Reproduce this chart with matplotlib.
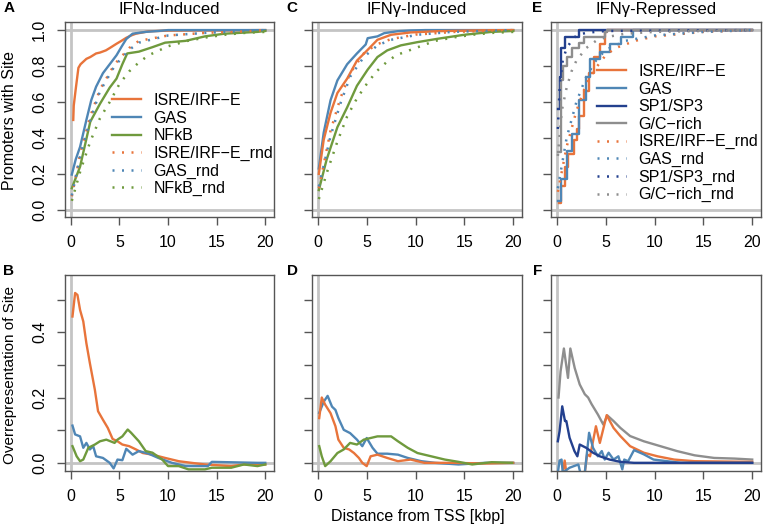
"""
Promoter site distribution around the TSS: cumulative fractions and overrepresentation
"""

import matplotlib
matplotlib.use("Agg")
import matplotlib.pyplot as plt

plt.rcParams['font.family'] = ['Liberation Sans', 'DejaVu Sans']
plt.rcParams['font.size'] = 11

ORANGE = '#E8743B'
BLUE = '#4F86B5'
GREEN = '#6F9A3D'
NAVY = '#23408E'
GREY = '#8E8E8E'

# ---- Panel A: IFNa-induced, fraction of promoters with site within distance ----
a_isre_x = [0.25, 0.3, 0.5, 0.78, 1.0, 1.6, 2.0, 2.6, 3.0, 3.6, 4.0, 4.7, 5.2, 5.7, 6.2, 6.7, 8.0, 10.0, 20.0]
a_isre_y = [0.50, 0.58, 0.67, 0.79, 0.81, 0.84, 0.85, 0.87, 0.875, 0.887, 0.90, 0.924, 0.94, 0.957, 0.97, 0.98, 0.993, 0.997, 1.0]
a_gas_x = [0.1, 0.5, 0.95, 1.6, 2.1, 2.6, 3.3, 4.0, 4.7, 5.2, 5.7, 6.35, 7.7, 9.0, 10.0, 20.0]
a_gas_y = [0.196, 0.28, 0.35, 0.50, 0.61, 0.685, 0.76, 0.81, 0.86, 0.906, 0.95, 0.98, 0.99, 0.995, 1.0, 1.0]
a_nfkb_x = [0.1, 0.95, 2.0, 3.0, 4.0, 4.7, 5.3, 5.8, 7.0, 8.4, 9.7, 11.8, 13.8, 15.8, 19.2, 20.0]
a_nfkb_y = [0.12, 0.24, 0.49, 0.59, 0.68, 0.73, 0.81, 0.87, 0.88, 0.905, 0.93, 0.94, 0.965, 0.98, 0.99, 0.995]
a_isre_rnd_x = [0.1, 1.0, 2.0, 3.0, 4.5, 6.0, 7.0, 10.0, 14.0, 17.0, 20.0]
a_isre_rnd_y = [0.075, 0.32, 0.52, 0.67, 0.81, 0.90, 0.94, 0.97, 0.985, 0.99, 1.0]
a_gas_rnd_x = [0.1, 1.0, 2.0, 3.0, 4.5, 6.0, 7.0, 10.0, 14.0, 20.0]
a_gas_rnd_y = [0.08, 0.31, 0.50, 0.66, 0.80, 0.89, 0.93, 0.97, 0.985, 1.0]
a_nfkb_rnd_x = [0.1, 1.0, 2.0, 3.0, 4.0, 5.0, 6.0, 7.0, 8.0, 10.0, 12.0, 14.0, 16.0, 18.0, 20.0]
a_nfkb_rnd_y = [0.05, 0.22, 0.38, 0.51, 0.60, 0.70, 0.77, 0.82, 0.86, 0.91, 0.94, 0.96, 0.975, 0.985, 0.99]

# ---- Panel C: IFNg-induced ----
c_gas_x = [0.1, 0.6, 1.3, 2.0, 3.0, 4.0, 4.9, 5.1, 6.1, 6.8, 8.2, 9.5, 11.0, 20.0]
c_gas_y = [0.23, 0.43, 0.61, 0.72, 0.81, 0.87, 0.92, 0.955, 0.965, 0.983, 0.994, 0.998, 1.0, 1.0]
c_isre_x = [0.1, 0.6, 1.3, 2.0, 3.0, 4.0, 5.1, 6.1, 7.5, 9.5, 12.3, 17.0, 20.0]
c_isre_y = [0.20, 0.39, 0.54, 0.65, 0.73, 0.83, 0.89, 0.946, 0.974, 0.987, 0.994, 0.999, 1.0]
c_nfkb_x = [0.1, 0.9, 2.0, 3.0, 4.0, 5.1, 6.1, 7.1, 8.5, 10.2, 12.3, 15.0, 17.8, 20.0]
c_nfkb_y = [0.11, 0.28, 0.46, 0.57, 0.69, 0.78, 0.85, 0.887, 0.915, 0.933, 0.952, 0.974, 0.99, 0.995]
c_isre_rnd_x = [0.1, 1.3, 2.3, 3.3, 4.7, 6.0, 7.5, 10.0, 14.0, 20.0]
c_isre_rnd_y = [0.12, 0.44, 0.62, 0.76, 0.87, 0.92, 0.95, 0.975, 0.99, 1.0]
c_gas_rnd_x = [0.1, 1.3, 2.3, 3.3, 4.7, 6.1, 7.5, 10.2, 13.7, 20.0]
c_gas_rnd_y = [0.13, 0.41, 0.59, 0.74, 0.85, 0.915, 0.946, 0.974, 0.99, 1.0]
c_nfkb_rnd_x = [0.1, 1.0, 2.0, 3.0, 4.0, 5.0, 6.0, 7.0, 8.0, 10.0, 12.0, 14.0, 16.0, 18.0, 20.0]
c_nfkb_rnd_y = [0.06, 0.22, 0.38, 0.52, 0.62, 0.70, 0.77, 0.82, 0.86, 0.90, 0.94, 0.96, 0.975, 0.985, 0.99]

# ---- Panel E: IFNg-repressed (step curves) ----
e_isre_x = [0.2, 0.45, 0.8, 1.1, 1.8, 2.1, 2.3, 2.8, 3.3, 3.8, 4.4, 4.9, 5.1, 20.0]
e_isre_y = [0.04, 0.13, 0.24, 0.31, 0.39, 0.45, 0.52, 0.66, 0.76, 0.85, 0.92, 0.99, 1.0, 1.0]
e_gas_x = [0.1, 0.45, 1.0, 1.5, 2.3, 3.0, 3.4, 4.4, 5.4, 6.6, 7.8, 20.0]
e_gas_y = [0.05, 0.17, 0.33, 0.42, 0.61, 0.74, 0.84, 0.88, 0.92, 0.96, 1.0, 1.0]
e_sp1_x = [0.1, 0.3, 0.45, 0.8, 2.3, 20.0]
e_sp1_y = [0.56, 0.74, 0.90, 0.96, 1.0, 1.0]
e_gc_x = [0.1, 0.45, 0.6, 1.0, 1.5, 2.3, 2.8, 4.9, 5.1, 20.0]
e_gc_y = [0.32, 0.72, 0.80, 0.85, 0.90, 0.93, 0.96, 0.99, 1.0, 1.0]
e_isre_rnd_x = [0.1, 1.0, 2.0, 3.0, 4.0, 5.0, 6.0, 8.0, 10.0, 15.0, 20.0]
e_isre_rnd_y = [0.10, 0.35, 0.55, 0.70, 0.79, 0.86, 0.90, 0.94, 0.965, 0.99, 1.0]
e_gas_rnd_x = [0.1, 1.0, 2.0, 3.0, 4.0, 5.0, 7.0, 10.0, 15.0, 20.0]
e_gas_rnd_y = [0.12, 0.40, 0.60, 0.74, 0.83, 0.89, 0.94, 0.97, 0.99, 1.0]
e_sp1_rnd_x = [0.1, 0.3, 0.6, 1.0, 1.5, 2.0, 3.0, 5.0, 20.0]
e_sp1_rnd_y = [0.45, 0.70, 0.83, 0.90, 0.94, 0.97, 0.985, 0.995, 1.0]
e_gc_rnd_x = [0.1, 0.5, 1.0, 1.5, 2.0, 3.0, 4.0, 5.0, 7.0, 10.0, 20.0]
e_gc_rnd_y = [0.30, 0.55, 0.68, 0.77, 0.83, 0.90, 0.94, 0.96, 0.98, 0.99, 1.0]

# ---- Panel B: IFNa-induced overrepresentation ----
b_isre_x = [0.17, 0.44, 0.68, 0.95, 1.28, 1.6, 1.96, 2.47, 2.8, 3.3, 3.8, 4.3, 4.8, 5.3, 6.0, 6.7, 7.4, 8.4, 9.7, 11.1, 12.4, 13.8, 16.5, 17.8, 19.2, 20.0]
b_isre_y = [0.448, 0.52, 0.514, 0.468, 0.433, 0.366, 0.305, 0.224, 0.158, 0.132, 0.107, 0.073, 0.066, 0.056, 0.051, 0.041, 0.03, 0.025, 0.015, 0.005, 0.0, -0.005, -0.01, -0.005, -0.005, -0.005]
b_gas_x = [0.17, 0.44, 0.95, 1.28, 1.6, 1.96, 2.3, 2.6, 3.3, 4.0, 4.4, 4.8, 5.3, 5.7, 6.35, 7.0, 8.0, 9.0, 10.4, 11.8, 14.1, 14.5, 19.2, 20.0]
b_gas_y = [0.114, 0.087, 0.081, 0.046, 0.061, 0.041, 0.051, 0.02, 0.015, 0.0, -0.017, 0.01, 0.008, 0.043, 0.025, 0.036, 0.028, 0.015, 0.0, -0.01, -0.01, 0.003, 0.0, 0.0]
b_nfkb_x = [0.17, 0.6, 0.95, 1.28, 1.8, 2.47, 3.0, 3.65, 4.5, 4.8, 5.3, 5.85, 6.2, 7.0, 7.7, 8.4, 9.4, 10.0, 11.1, 12.1, 13.8, 14.5, 16.5, 17.8, 19.2, 20.0]
b_nfkb_y = [0.051, 0.02, 0.005, 0.01, 0.046, 0.056, 0.066, 0.071, 0.061, 0.071, 0.081, 0.102, 0.092, 0.066, 0.036, 0.031, 0.01, -0.01, -0.01, -0.02, -0.02, -0.015, -0.015, -0.005, -0.01, -0.005]

# ---- Panel D: IFNg-induced overrepresentation ----
d_gas_x = [0.14, 0.6, 1.0, 1.45, 1.8, 2.1, 2.65, 3.3, 4.0, 4.55, 5.0, 5.6, 6.1, 7.1, 8.2, 9.2, 10.6, 12.0, 14.4, 17.1, 20.0]
d_gas_y = [0.153, 0.187, 0.205, 0.172, 0.162, 0.137, 0.101, 0.091, 0.071, 0.051, 0.076, 0.046, 0.028, 0.028, 0.025, 0.015, 0.005, 0.0, -0.005, 0.0, 0.0]
d_isre_x = [0.14, 0.4, 0.75, 1.3, 1.8, 2.1, 2.65, 3.2, 3.7, 4.2, 4.55, 5.0, 5.4, 6.1, 7.1, 8.2, 9.5, 10.9, 13.7, 17.1, 20.0]
d_isre_y = [0.137, 0.20, 0.178, 0.152, 0.112, 0.071, 0.046, 0.041, 0.03, 0.015, 0.0, -0.01, 0.02, 0.025, 0.015, 0.005, 0.01, 0.0, 0.0, -0.002, 0.0]
d_nfkb_x = [0.14, 0.4, 0.75, 1.3, 2.0, 2.65, 3.3, 4.0, 4.7, 5.4, 6.1, 6.8, 7.5, 8.2, 9.2, 10.2, 11.6, 13.0, 14.4, 15.8, 17.8, 19.9]
d_nfkb_y = [0.051, 0.02, -0.01, 0.005, 0.03, 0.041, 0.061, 0.056, 0.071, 0.076, 0.081, 0.081, 0.081, 0.066, 0.046, 0.03, 0.02, 0.01, 0.003, -0.005, 0.002, 0.0]

# ---- Panel F: IFNg-repressed overrepresentation ----
f_gc_x = [0.17, 0.38, 0.72, 1.14, 1.38, 1.83, 2.34, 2.86, 3.2, 3.55, 4.2, 4.76, 5.17, 5.8, 6.5, 7.5, 8.9, 10.6, 12.3, 14.1, 16.1, 18.2, 20.0]
f_gc_y = [0.20, 0.28, 0.35, 0.26, 0.35, 0.29, 0.24, 0.21, 0.20, 0.18, 0.148, 0.117, 0.145, 0.128, 0.107, 0.082, 0.066, 0.051, 0.036, 0.023, 0.015, 0.013, 0.01]
f_sp1_x = [0.1, 0.28, 0.55, 0.83, 0.97, 1.3, 1.8, 2.1, 2.34, 3.0, 3.7, 4.4, 5.4, 6.5, 7.9, 20.0]
f_sp1_y = [0.066, 0.097, 0.173, 0.128, 0.128, 0.077, 0.036, 0.02, 0.056, 0.046, 0.031, 0.02, 0.01, 0.003, 0.0, 0.0]
f_isre_x = [0.1, 0.6, 0.8, 0.97, 1.5, 2.86, 3.1, 3.4, 4.0, 4.4, 5.1, 5.8, 6.5, 7.5, 8.9, 10.3, 12.0, 14.1, 20.0]
f_isre_y = [-0.03, -0.03, 0.007, -0.03, -0.03, -0.03, 0.026, 0.02, 0.112, 0.061, 0.146, 0.107, 0.082, 0.051, 0.031, 0.02, 0.01, 0.005, 0.003]
f_gas_x = [0.1, 0.28, 0.48, 0.6, 1.3, 2.2, 2.4, 2.86, 3.3, 3.7, 4.2, 4.6, 4.9, 5.3, 5.8, 6.3, 6.7, 6.9, 7.3, 7.9, 8.9, 9.9, 11.3, 12.7, 20.0]
f_gas_y = [-0.03, 0.007, 0.01, -0.03, -0.015, -0.005, -0.03, -0.03, 0.092, 0.046, 0.02, 0.036, 0.01, 0.031, 0.01, 0.02, -0.02, 0.01, 0.005, 0.039, 0.026, 0.01, 0.005, 0.0, 0.0]

W, H = 763, 526
XTICKS = [0, 5, 10, 15, 20]
SOLID = dict(lw=1.7)
DOTTED = dict(lw=1.8, linestyle=(0, (0.8, 3.0)))


def make_axes(fig, left, right, top, bottom):
    """Add axes using pixel edges of the reference"""
    return fig.add_axes([left / W, (H - bottom) / H, (right - left) / W, (bottom - top) / H])


def style_axes(ax, top_row, show_ylabels):
    ax.set_xlim(-0.6, 20.9)
    ax.set_xticks(XTICKS)
    if top_row:
        ax.set_ylim(-0.04, 1.045)
        ax.set_yticks([0, 0.2, 0.4, 0.6, 0.8, 1.0])
        labels = ['0.0', '0.2', '0.4', '0.6', '0.8', '1.0']
        ax.axhline(1.0, color='#C4C4C4', lw=2, zorder=0)
    else:
        ax.set_ylim(-0.025, 0.575)
        ax.set_yticks([0, 0.1, 0.2, 0.3, 0.4, 0.5])
        labels = ['0.0', '', '0.2', '', '0.4', '']
    ax.axhline(0.0, color='#C4C4C4', lw=2, zorder=0)
    ax.axvline(0.0, color='#C4C4C4', lw=2, zorder=0)
    if show_ylabels:
        ax.set_yticklabels(labels, rotation=90, va='center')
    else:
        ax.set_yticklabels([])
    for s in ax.spines.values():
        s.set_color('#555555')
        s.set_linewidth(1.0)
    ax.tick_params(direction='out', length=6, width=1.0, color='#555555', labelsize=11.5, pad=7)


fig = plt.figure(figsize=(W / 100, H / 100), dpi=100)

# top row
axA = make_axes(fig, 65, 274, 22, 217)
axC = make_axes(fig, 312, 522, 22, 217)
axE = make_axes(fig, 551, 761, 22, 217)
# bottom row
axB = make_axes(fig, 65, 274, 275, 471)
axD = make_axes(fig, 312, 522, 275, 471)
axF = make_axes(fig, 551, 761, 275, 471)

# Panel A
axA.plot(a_isre_x, a_isre_y, color=ORANGE, label='ISRE/IRF\u2212E', **SOLID)
axA.plot(a_gas_x, a_gas_y, color=BLUE, label='GAS', **SOLID)
axA.plot(a_nfkb_x, a_nfkb_y, color=GREEN, label='NFkB', **SOLID)
axA.plot(a_isre_rnd_x, a_isre_rnd_y, color=ORANGE, label='ISRE/IRF\u2212E_rnd', **DOTTED)
axA.plot(a_gas_rnd_x, a_gas_rnd_y, color=BLUE, label='GAS_rnd', **DOTTED)
axA.plot(a_nfkb_rnd_x, a_nfkb_rnd_y, color=GREEN, label='NFkB_rnd', **DOTTED)
axA.legend(loc='upper left', bbox_to_anchor=(112 / W, 1 - 93 / H), bbox_transform=fig.transFigure,
           frameon=False, fontsize=11.5, handlelength=1.8, handletextpad=0.8, labelspacing=0.16,
           borderaxespad=0, borderpad=0)

# Panel C
axC.plot(c_gas_x, c_gas_y, color=BLUE, **SOLID)
axC.plot(c_isre_x, c_isre_y, color=ORANGE, **SOLID)
axC.plot(c_nfkb_x, c_nfkb_y, color=GREEN, **SOLID)
axC.plot(c_isre_rnd_x, c_isre_rnd_y, color=ORANGE, **DOTTED)
axC.plot(c_gas_rnd_x, c_gas_rnd_y, color=BLUE, **DOTTED)
axC.plot(c_nfkb_rnd_x, c_nfkb_rnd_y, color=GREEN, **DOTTED)

# Panel E
axE.plot(e_isre_x, e_isre_y, color=ORANGE, drawstyle='steps-post', label='ISRE/IRF\u2212E', **SOLID)
axE.plot(e_gas_x, e_gas_y, color=BLUE, drawstyle='steps-post', label='GAS', **SOLID)
axE.plot(e_sp1_x, e_sp1_y, color=NAVY, drawstyle='steps-post', label='SP1/SP3', **SOLID)
axE.plot(e_gc_x, e_gc_y, color=GREY, drawstyle='steps-post', label='G/C\u2212rich', **SOLID)
axE.plot(e_isre_rnd_x, e_isre_rnd_y, color=ORANGE, label='ISRE/IRF\u2212E_rnd', **DOTTED)
axE.plot(e_gas_rnd_x, e_gas_rnd_y, color=BLUE, label='GAS_rnd', **DOTTED)
axE.plot(e_sp1_rnd_x, e_sp1_rnd_y, color=NAVY, label='SP1/SP3_rnd', **DOTTED)
axE.plot(e_gc_rnd_x, e_gc_rnd_y, color=GREY, label='G/C\u2212rich_rnd', **DOTTED)
axE.legend(loc='upper left', bbox_to_anchor=(597 / W, 1 - 64 / H), bbox_transform=fig.transFigure,
           frameon=False, fontsize=11.5, handlelength=1.8, handletextpad=0.8, labelspacing=0.16,
           borderaxespad=0, borderpad=0)

# Panel B
axB.plot(b_isre_x, b_isre_y, color=ORANGE, **SOLID)
axB.plot(b_gas_x, b_gas_y, color=BLUE, **SOLID)
axB.plot(b_nfkb_x, b_nfkb_y, color=GREEN, **SOLID)

# Panel D
axD.plot(d_gas_x, d_gas_y, color=BLUE, **SOLID)
axD.plot(d_isre_x, d_isre_y, color=ORANGE, **SOLID)
axD.plot(d_nfkb_x, d_nfkb_y, color=GREEN, **SOLID)

# Panel F
axF.plot(f_gc_x, f_gc_y, color=GREY, **SOLID)
axF.plot(f_isre_x, f_isre_y, color=ORANGE, **SOLID)
axF.plot(f_gas_x, f_gas_y, color=BLUE, **SOLID)
axF.plot(f_sp1_x, f_sp1_y, color=NAVY, **SOLID)

style_axes(axA, True, True)
style_axes(axC, True, False)
style_axes(axE, True, False)
style_axes(axB, False, True)
style_axes(axD, False, False)
style_axes(axF, False, False)

# titles and panel letters
for ax, title in [(axA, 'IFN\u03b1-Induced'), (axC, 'IFN\u03b3-Induced'), (axE, 'IFN\u03b3-Repressed')]:
    ax.set_title(title, fontsize=12, pad=6)
for letter, x, y in [('A', 9, 8), ('C', 292, 8), ('E', 537, 8), ('B', 9, 271), ('D', 292, 271), ('F', 538, 271)]:
    fig.text(x / W, 1 - y / H, letter, fontsize=11, fontweight='bold', ha='center', va='center')

fig.text(10 / W, 1 - 120 / H, 'Promoters with Site', rotation=90, ha='center', va='center', fontsize=11.5)
fig.text(10 / W, 1 - 375 / H, 'Overrepresentation of Site', rotation=90, ha='center', va='center', fontsize=11)
fig.text(418 / W, 1 - 516 / H, 'Distance from TSS [kbp]', ha='center', va='center', fontsize=11.5)

fig.savefig('out.png', dpi=100)
